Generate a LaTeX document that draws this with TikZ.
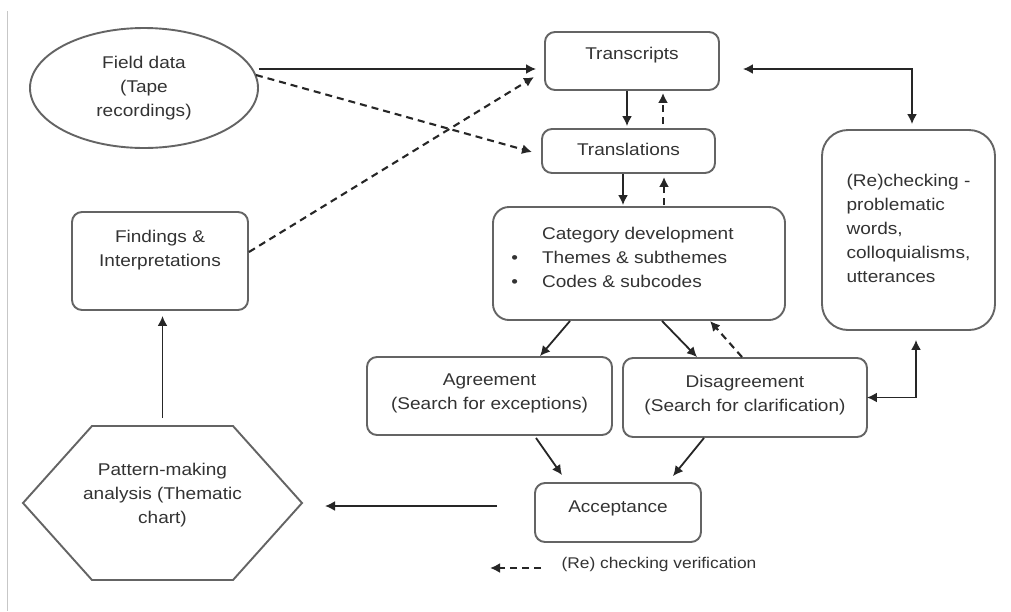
\documentclass[tikz,border=0pt]{standalone}
\usepackage{fontspec}
\setmainfont{Liberation Sans}[FakeStretch=1.12]
\usetikzlibrary{shapes.geometric,arrows.meta,calc}
\definecolor{edge}{HTML}{646464}
\definecolor{wirec}{HTML}{262626}
\definecolor{ink}{HTML}{333333}
% centred lines, with optional extra space under the last one
\newcommand\boxtext[2][0pt]{\begin{tabular}{@{}c@{}}#2\\[#1]\end{tabular}}

\begin{document}
\begin{tikzpicture}[x=1pt,y=-1pt,
  font=\fontsize{17}{24}\selectfont, text=ink,
  base/.style={draw=edge, line width=1.9pt, inner sep=0pt},
  stepbox/.style={base, rounded corners=10pt},
  wire/.style={draw=wirec, line width=1.8pt, -{Latex[length=10pt,width=10pt]}},
  back/.style={wire, line width=2.1pt, dash pattern=on 7pt off 5pt},
  both/.style={draw=wirec, line width=1.8pt, {Latex[length=10pt,width=10pt]}-{Latex[length=10pt,width=10pt]}}]

\useasboundingbox (0,0) rectangle (1011,611);
\fill[white] (0,0) rectangle (1011,611);
\draw[black!22, line width=1pt] (7,11) -- (7,611);

% nodes
\node[base, ellipse, minimum width=228pt, minimum height=120pt] (field) at (144,88)
  {\boxtext{Field data\\(Tape\\recordings)}};
\node[stepbox, minimum width=174pt, minimum height=58pt] (trans) at (632,61)
  {\boxtext[12pt]{Transcripts}};
\node[stepbox, minimum width=173pt, minimum height=44pt] (transl) at (628.5,151)
  {\boxtext{Translations}};
\node[stepbox, rounded corners=16pt, minimum width=292pt, minimum height=113pt] (cat) at (639,263.5)
  {\begin{tabular}{@{}l@{\hspace{24pt}}l@{\hspace{33pt}}}
     & Category development\\
     \textbullet & Themes \& subthemes\\
     \textbullet & Codes \& subcodes\\[10pt]
   \end{tabular}};
\node[stepbox, rounded corners=26pt, minimum width=173pt, minimum height=200pt] (rech) at (908.5,230)
  {\begin{tabular}{@{}l@{}}(Re)checking -\\problematic\\words,\\colloquialisms,\\utterances\end{tabular}};
\node[stepbox, minimum width=176pt, minimum height=98pt] (find) at (160,261)
  {\boxtext[22pt]{Findings \&\\Interpretations}};
\node[stepbox, minimum width=245pt, minimum height=78pt] (agree) at (489.5,396)
  {\boxtext[6pt]{Agreement\\(Search for exceptions)}};
\node[stepbox, minimum width=244pt, minimum height=79pt] (disag) at (745,397.5)
  {\boxtext[6pt]{Disagreement\\(Search for clarification)}};
\node[stepbox, minimum width=166pt, minimum height=59pt] (accept) at (618,512.5)
  {\boxtext[10pt]{Acceptance}};
\node[inner sep=0pt] (hex) at (162.5,503)
  {\boxtext[16pt]{Pattern-making\\analysis (Thematic\\chart)}};
\draw[draw=edge, line width=1.9pt, line join=miter]
  ($(hex)+(-139.5,0)$) -- ($(hex)+(-70.5,-77)$) -- ($(hex)+(70.5,-77)$)
  -- ($(hex)+(139.5,0)$) -- ($(hex)+(70.5,77)$) -- ($(hex)+(-70.5,77)$) -- cycle;

% legend
\node[anchor=west, font=\fontsize{15.5}{18}\selectfont] (legend) at (558,564) {(Re) checking verification};
\draw[back] ($(legend.west)+(-17,4)$) -- ($(legend.west)+(-68,4)$);

% connectors
\draw[wire] ($(field.east)+(0,-19)$) -- ($(trans.west)+(-8,8)$);
\draw[back] ($(field.east)+(-3,-13)$) -- ($(transl.west)+(-9,1)$);
\draw[back] ($(find.east)+(0,-9)$) -- ($(trans.west)+(-10,16)$);
\draw[wire] ($(trans.south)+(-5,0)$) -- ($(transl.north)+(-1.5,-2)$);
\draw[back] ($(transl.north)+(34.5,-4)$) -- ($(trans.south)+(31,2)$);
\draw[wire] ($(transl.south)+(-5.5,0)$) -- ($(cat.north)+(-16,-1)$);
\draw[back] ($(cat.north)+(25,-1)$) -- ($(transl.south)+(35.5,3)$);
\draw[both] ($(trans.east)+(23,8)$) -| ($(rech.north)+(3.5,-5)$);
\draw[both] ($(rech.south)+(7.5,9)$) |- ($(disag.east)+(-1,0)$);
\draw[wire] ($(cat.south)+(-69,0)$) -- ($(agree.north)+(50.5,0)$);
\draw[wire] ($(cat.south)+(23,0)$) -- ($(disag.north)+(-48,0)$);
\draw[back] ($(disag.north)+(-3,0)$) -- ($(cat.south)+(71,0)$);
\draw[wire] ($(agree.south)+(46.5,2)$) -- ($(accept.north)+(-56,-7)$);
\draw[wire] ($(disag.south)+(-41,0)$) -- ($(accept.north)+(55,-6)$);
\draw[wire] ($(accept.west)+(-37,-6.5)$) -- ($(hex)+(162.5,3)$);
\draw[wire] ($(hex)+(0,-85)$) -- ($(find.south)+(2.5,5)$);
\end{tikzpicture}
\end{document}
